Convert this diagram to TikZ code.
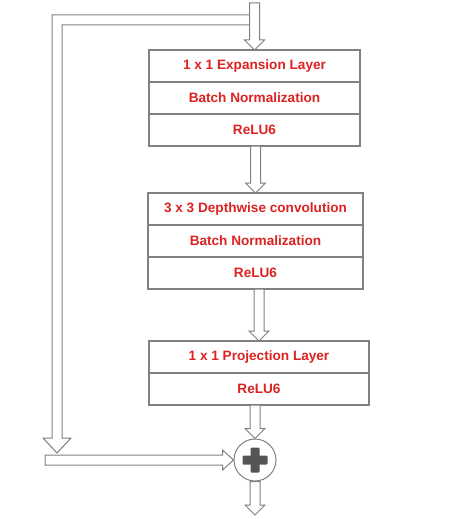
\documentclass[tikz,border=0pt]{standalone}
\usepackage{fontspec}
\setmainfont{Liberation Sans}
\usetikzlibrary{positioning,calc}
\definecolor{layertext}{HTML}{DD2222}
\definecolor{edgegray}{HTML}{808080}
\definecolor{plusgray}{HTML}{555555}
\tikzstyle{layer_row}=[rectangle,
                       minimum height=32pt,
                       inner sep=0pt,
                       outer sep=0pt,
                       draw=edgegray,
                       line width=1.1pt,
                       text=layertext,
                       font=\fontsize{13.6}{16}\selectfont\bfseries]
\tikzstyle{block_arrow}=[draw=edgegray, fill=white, line width=1pt, line join=miter]
\tikzstyle{add_node}=[circle, draw=edgegray, line width=1pt, fill=white, minimum size=42pt, inner sep=0pt]

% hollow block arrows: shaft from #1, tip at #2
\newcommand{\downblock}[2]{%
  \draw[block_arrow] ($(#2 |- #1)+(-5,0)$) -- ($(#2)+(-5,-10)$) -- ($(#2)+(-10,-10)$)
    -- (#2) -- ($(#2)+(10,-10)$) -- ($(#2)+(5,-10)$) -- ($(#2 |- #1)+(5,0)$) -- cycle;}
\newcommand{\rightblock}[2]{%
  \draw[block_arrow] ($(#1 |- #2)+(0,-5)$) -- ($(#2)+(-11,-5)$) -- ($(#2)+(-11,-10)$)
    -- (#2) -- ($(#2)+(-11,10)$) -- ($(#2)+(-11,5)$) -- ($(#1 |- #2)+(0,5)$) -- cycle;}

\begin{document}
\begin{tikzpicture}[x=1pt, y=-1pt]
    \fill[white] (0,0) rectangle (448,519);
    \useasboundingbox (0,0) rectangle (448,519);

    % expansion block
    \node at (254.5, 66) (exp) [layer_row, minimum width=211pt] {1 x 1 Expansion Layer};
    \node [layer_row, minimum width=211pt, below=0pt of exp] (bn1) {Batch Normalization};
    \node [layer_row, minimum width=211pt, below=0pt of bn1] (relu1) {ReLU6};

    % depthwise block
    \node at (255.5, 209) (dw) [layer_row, minimum width=215pt] {3 x 3 Depthwise convolution};
    \node [layer_row, minimum width=215pt, below=0pt of dw] (bn2) {Batch Normalization};
    \node [layer_row, minimum width=215pt, below=0pt of bn2] (relu2) {ReLU6};

    % projection block
    \node at (259, 357) (proj) [layer_row, minimum width=220pt] {1 x 1 Projection Layer};
    \node [layer_row, minimum width=220pt, below=0pt of proj] (relu3) {ReLU6};

    % residual sum
    \node at (255, 460) (add) [add_node] {};
    \fill[plusgray, rounded corners=1pt] ($(add)+(-12.5,-4.5)$) rectangle ($(add)+(12.5,4.5)$);
    \fill[plusgray, rounded corners=1pt] ($(add)+(-4.5,-12.5)$) rectangle ($(add)+(4.5,12.5)$);

    \coordinate (in) at (256, 3);
    \coordinate (split) at (256, 20);
    \coordinate (merge) at (57, 460);
    \coordinate (skipend) at (45, 460);
    \coordinate (out) at (255, 515);

    % skip connection
    \draw[block_arrow] ($(split)+(-5,-5)$) -- ($(split -| merge)+(-5,-5)$) -- ($(merge)+(-5,-22)$)
        -- ($(merge)+(-14,-22)$) -- ($(merge)+(0,-7)$) -- ($(merge)+(14,-22)$)
        -- ($(merge)+(5,-22)$) -- ($(split -| merge)+(5,5)$) -- ($(split)+(-5,5)$);
    \rightblock{skipend}{add.west}

    % main path
    \downblock{in}{exp.north}
    \downblock{relu1.south}{dw.north}
    \downblock{relu2.south}{proj.north}
    \downblock{relu3.south}{add.north}
    \downblock{add.south}{out}
\end{tikzpicture}
\end{document}
